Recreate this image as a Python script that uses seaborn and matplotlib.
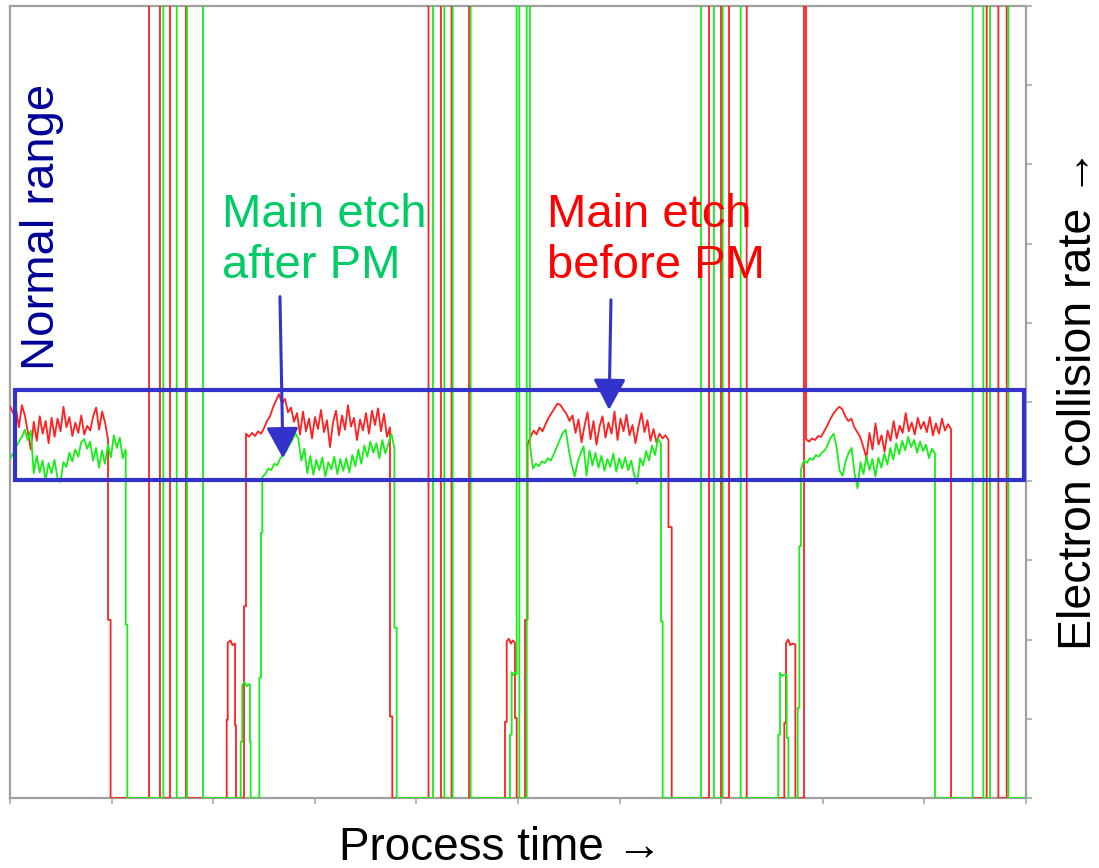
import numpy as np
import matplotlib
matplotlib.use("Agg")
import matplotlib.pyplot as plt
from matplotlib.patches import Rectangle
import seaborn as sns

# signal saturates above the chart top when the plasma is off
HI = 101

# main etch windows: (start, end) in process time
red_windows = [(0.0, 9.65), (23.23, 37.40), (50.94, 64.81), (78.35, 92.62)]
green_windows = [(0.0, 11.39), (24.83, 37.83), (51.18, 64.07), (77.85, 91.04)]

# collision rate sampled inside each window, before PM (red)
red_etch_1 = [49.5, 48.6, 49.2, 46.8, 49.6, 48.3, 46.2, 44.0, 47.5, 45.1, 48.2, 46.0,
              47.6, 44.8, 48.0, 45.6, 47.9, 46.3, 49.4, 46.8, 48.1, 45.7, 47.4, 46.1,
              48.3, 45.9, 47.0, 46.4, 48.2, 49.3, 46.5, 48.8, 47.4, 45.2]
red_etch_2 = [46.0, 45.6, 46.1, 45.7, 46.3, 46.0, 46.7, 47.6, 48.2, 49.3, 50.2, 51.0,
              49.8, 50.4, 48.7, 49.3, 47.5, 48.6, 45.9, 48.8, 46.3, 47.9, 45.4, 48.1,
              46.6, 49.0, 46.2, 47.7, 44.3, 47.4, 48.9, 45.8, 48.3, 46.5, 49.6, 46.9,
              48.0, 45.2, 47.8, 46.4, 48.6, 46.0, 48.9, 47.1, 49.2, 46.3, 48.5, 45.6, 46.8]
red_etch_3 = [44.7, 45.6, 46.4, 45.9, 46.8, 46.3, 47.2, 48.0, 48.6, 49.2, 49.8, 49.6,
              49.0, 48.5, 47.6, 48.3, 46.1, 47.8, 44.9, 47.0, 48.7, 45.3, 47.6, 44.6,
              46.9, 48.2, 45.5, 47.4, 46.0, 48.8, 45.2, 47.9, 46.3, 48.4, 45.8, 47.1,
              44.8, 46.9, 48.6, 46.2, 47.7, 45.1, 46.6, 44.9, 46.0, 45.4, 45.8, 45.2]
red_etch_4 = [45.3, 45.0, 45.4, 45.2, 45.7, 45.6, 46.3, 47.0, 47.8, 48.5, 49.0, 49.4,
              49.1, 48.2, 47.6, 47.9, 46.8, 46.2, 45.5, 44.3, 42.9, 46.1, 44.0, 47.3,
              44.6, 45.8, 43.7, 46.4, 45.1, 47.6, 45.4, 47.0, 46.1, 48.6, 46.3, 47.4,
              45.9, 48.0, 46.6, 47.5, 46.2, 48.1, 45.8, 47.3, 46.0, 47.9, 46.4, 47.2, 46.6]

# collision rate sampled inside each window, after PM (green)
green_etch_1 = [42.8, 43.5, 44.3, 45.0, 45.6, 46.5, 45.2, 46.4, 41.0, 43.2, 41.1, 42.6,
                40.1, 42.3, 41.0, 42.7, 40.4, 39.9, 42.4, 41.8, 43.6, 42.5, 44.0, 43.1,
                44.9, 45.3, 44.1, 45.0, 42.6, 44.2, 41.7, 43.9, 42.2, 44.6, 43.0, 45.8,
                44.2, 45.5, 42.9, 44.0]
green_etch_2 = [40.5, 40.9, 41.6, 41.4, 42.2, 42.0, 42.9, 43.3, 43.8, 44.6, 45.2, 46.1,
                45.4, 42.6, 44.1, 41.0, 43.2, 40.8, 42.7, 41.4, 43.0, 40.6, 42.4, 41.5,
                43.1, 40.9, 42.8, 41.3, 42.9, 41.1, 43.3, 41.9, 44.0, 42.2, 44.5, 43.1,
                45.0, 43.6, 44.8, 42.9, 45.2, 43.5, 44.7, 46.0, 44.2]
green_etch_3 = [44.5, 41.6, 42.2, 41.9, 42.5, 42.3, 42.9, 42.6, 43.4, 44.3, 45.2, 46.1,
                46.5, 44.0, 42.1, 40.6, 42.4, 43.5, 44.4, 40.7, 43.9, 42.0, 43.6, 41.7,
                43.2, 41.3, 42.8, 41.8, 43.5, 41.2, 42.9, 41.6, 43.0, 41.4, 42.6, 40.8,
                39.7, 42.9, 42.0, 43.8, 42.6, 44.5, 43.3, 45.4, 44.7]
green_etch_4 = [41.5, 42.6, 42.3, 42.9, 42.7, 43.3, 43.1, 43.6, 43.9, 44.6, 45.5, 46.0,
                44.2, 41.3, 40.7, 42.5, 43.6, 44.2, 41.0, 39.1, 42.4, 40.9, 43.2, 41.4,
                42.8, 40.6, 43.0, 41.7, 43.5, 42.1, 44.2, 42.7, 44.8, 43.4, 45.1, 43.9,
                45.6, 44.3, 45.2, 43.6, 45.0, 43.8, 44.6, 42.9, 44.1, 43.5]

# between windows: chamber steps (time, rate)
red_gap_t = [
    [9.65, 9.9, 9.9, 13.68, 13.68, 14.76, 14.76, 15.75, 15.75, 17.32, 17.32, 21.33, 21.33,
     21.43, 21.43, 21.7, 21.9, 22.15, 22.15, 22.24, 22.24, 23.03, 23.03, 23.23],
    [37.40, 37.63, 37.63, 41.19, 41.19, 42.42, 42.42, 43.45, 43.45, 45.18, 45.18, 48.72,
     48.72, 48.89, 48.89, 49.1, 49.3, 49.5, 49.70, 49.70, 49.87, 49.87, 50.69, 50.69, 50.94],
    [64.81, 65.13, 65.13, 68.80, 68.80, 69.98, 69.98, 70.77, 70.77, 72.51, 72.51, 76.21,
     76.21, 76.38, 76.38, 76.6, 76.8, 77.0, 77.30, 77.30, 78.15, 78.15, 78.35],
    [92.62, 96.13, 96.13, 97.28, 97.28, 98.10, 98.10, 100.0],
]
red_gap_r = [
    [22.5, 22.5, 0, 0, HI, HI, 0, 0, HI, HI, 0, 0, 9.9,
     9.9, 19.6, 19.9, 19.3, 19.5, 9.2, 9.2, 0, 0, 24.2, 24.2],
    [10.3, 10.3, 0, 0, HI, HI, 0, 0, HI, HI, 0, 0,
     9.6, 9.6, 19.8, 20.1, 19.5, 19.9, 19.6, 10.1, 10.1, 0, 0, 22.5, 22.5],
    [34.2, 34.2, 0, 0, HI, HI, 0, 0, HI, HI, 0, 0,
     9.5, 9.5, 19.6, 20.0, 19.3, 19.5, 19.4, 0, 0, HI, HI],
    [0, 0, HI, HI, 0, 0, HI, HI],
]
green_gap_t = [
    [11.39, 11.55, 11.55, 15.09, 15.09, 16.41, 16.41, 17.42, 17.42, 19.0, 19.0, 22.71, 22.71,
     22.86, 22.86, 23.1, 23.3, 23.55, 23.62, 23.62, 23.69, 23.69, 24.54, 24.54, 24.70, 24.70, 24.83],
    [37.83, 38.06, 38.06, 41.63, 41.63, 42.75, 42.75, 43.57, 43.57, 45.34, 45.34, 49.21,
     49.21, 49.38, 49.38, 49.55, 49.70, 49.87, 49.87, 50.13, 50.13, 50.86, 50.86, 51.18],
    [64.07, 64.24, 64.24, 68.01, 68.01, 69.29, 69.29, 70.15, 70.15, 71.92, 71.92, 75.62,
     75.62, 75.79, 75.79, 76.0, 76.2, 76.45, 76.45, 76.61, 76.61, 77.53, 77.53, 77.69, 77.69, 77.85],
    [91.04, 94.75, 94.75, 95.80, 95.80, 96.46, 96.46, 98.26, 98.26, 100.0],
]
green_gap_r = [
    [21.9, 21.9, 0, 0, HI, HI, 0, 0, HI, HI, 0, 0, 7.1,
     7.1, 14.3, 14.6, 14.1, 14.4, 14.3, 7.1, 7.1, 0, 0, 15.2, 15.2, 33.5, 33.5],
    [21.5, 21.5, 0, 0, HI, HI, 0, 0, HI, HI, 0, 0,
     8.0, 8.0, 15.9, 15.5, 15.8, 15.6, HI, HI, 0, 0, HI, HI],
    [22.3, 22.3, 0, 0, HI, HI, 0, 0, HI, HI, 0, 0,
     8.0, 8.0, 15.8, 15.4, 15.6, 15.5, 7.6, 7.6, 0, 0, 11.4, 11.4, 31.8, 31.8],
    [0, 0, HI, HI, 0, 0, HI, HI, 0, 0],
]

# normal range band
normal_lo, normal_hi = 40.2, 51.5


def build(windows, etches, gap_t, gap_r):
    t, r = [], []
    for (t0, t1), vals, gt, gr in zip(windows, etches, gap_t, gap_r):
        t.extend(np.linspace(t0, t1, len(vals)))
        r.extend(vals)
        t.extend(gt)
        r.extend(gr)
    return np.array(t), np.array(r)


red_t, red_r = build(red_windows, [red_etch_1, red_etch_2, red_etch_3, red_etch_4],
                     red_gap_t, red_gap_r)
green_t, green_r = build(green_windows, [green_etch_1, green_etch_2, green_etch_3, green_etch_4],
                         green_gap_t, green_gap_r)

sns.set_theme(style="white")
plt.rcParams["font.family"] = ["Liberation Sans", "DejaVu Sans"]

fig = plt.figure(figsize=(10.99, 8.68), dpi=100)
ax = fig.add_axes([10 / 1099, 1 - 798 / 868, 1016 / 1099, 792 / 868])

sns.lineplot(x=red_t, y=red_r, sort=False, estimator=None, color="#ff2020",
             linewidth=1.3, zorder=3, ax=ax)
sns.lineplot(x=green_t, y=green_r, sort=False, estimator=None, color="#18ee18",
             linewidth=1.3, zorder=3, ax=ax)

ax.set_xlim(0, 100)
ax.set_ylim(0, 100)

# normal range box
ax.add_patch(Rectangle((0.49, normal_lo), 99.36, normal_hi - normal_lo, fill=False,
                       edgecolor="#3333cc", linewidth=3, zorder=4))

ax.text(3.15, 72.1, "Normal range", rotation=90, ha="center", va="center",
        fontsize=34, color="#000099", zorder=5)
ax.text(20.9, 76.4, "Main etch\nafter PM", ha="left", va="top",
        fontsize=34, color="#00cc66", zorder=5)
ax.text(52.9, 76.4, "Main etch\nbefore PM", ha="left", va="top",
        fontsize=34, color="#ff0000", zorder=5)

arrow = dict(arrowstyle="-|>,head_length=0.95,head_width=0.5", color="#3333cc",
             lw=2.2, shrinkA=0, shrinkB=0, mutation_scale=20)
ax.annotate("", xy=(26.87, 42.9), xytext=(26.57, 63.3), arrowprops=arrow, zorder=5)
ax.annotate("", xy=(58.96, 49.0), xytext=(59.15, 62.9), arrowprops=arrow, zorder=5)

# axes styling
for side in ["left", "right", "top", "bottom"]:
    ax.spines[side].set_visible(True)
    ax.spines[side].set_color("#a0a0a0")
    ax.spines[side].set_linewidth(1.6)

ax.set_xticks(np.arange(0, 101, 10))
ax.set_yticks(np.arange(0, 101, 10))
ax.yaxis.tick_right()
ax.tick_params(axis="x", bottom=True, top=False, direction="out", length=4, width=1.1,
               color="#a0a0a0", labelbottom=False)
ax.tick_params(axis="y", right=True, left=False, direction="out", length=4, width=1.1,
               color="#a0a0a0", labelright=False, labelleft=False)

ax.set_xlabel("Process time \u2192", fontsize=33, color="black", ha="center", va="top")
ax.xaxis.set_label_coords(0.483, -0.035)
ax.yaxis.set_label_position("right")
ax.set_ylabel("Electron collision rate \u2192", fontsize=33.5, color="black",
              rotation=90, ha="center", va="center")
ax.yaxis.set_label_coords(1.052, 0.504)

plt.savefig("out.png", dpi=100)
